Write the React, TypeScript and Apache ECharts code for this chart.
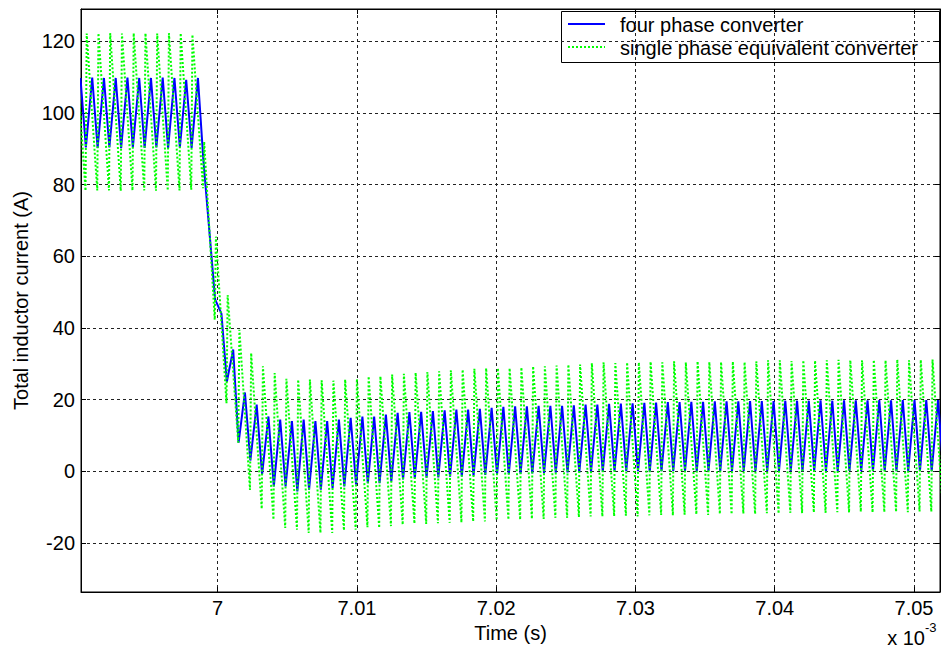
import React, { useEffect, useRef } from "react";
import * as echarts from "echarts";

// Axis ranges (time in units of 1e-3 s, current in A)
const X_MIN = 6.990187;
const X_MAX = 7.051866;
const Y_MIN = -33.7;
const Y_MAX = 129.05;

// Switching period (x 1e-3 s) and time of the first listed green peak (cycle k = -1)
const PERIOD = 0.0008435;
const FIRST_PEAK = 6.990596 - 0.0008435;

const seriesNames = ["four phase converter", "single phase equivalent converter"];

// Four-phase converter: per-cycle ripple maxima and minima (A), cycles k = -1 .. 73
const bluePeaks = [
  109.8, 109.9, 109.8, 109.8, 109.9, 109.8, 109.8, 109.9, 109.8, 109.3, 109.8,
  66, 44, 34, 22, 18.6, 15.3, 14.4, 14.0, 14.4, 14.0,
  14.0, 14.4, 14.9, 15.3, 15.3, 15.8, 16.3, 16.5, 16.6, 16.8,
  17.0, 17.2, 17.2, 17.4, 17.7, 18.0, 18.1, 18.1, 18.3, 18.3,
  18.3, 18.4, 18.6, 18.6, 18.8, 18.9, 19.0, 19.1, 19.2, 19.3,
  19.3, 19.4, 19.4, 19.5, 19.5, 19.5, 19.6, 19.6, 19.6, 19.7,
  19.7, 19.7, 19.8, 19.7, 19.8, 19.8, 19.8, 19.9, 19.8, 19.9, 19.9, 19.9, 19.9, 20.0,
];
const blueTroughs = [
  90.4, 90.3, 90.4, 90.2, 90.4, 90.3, 90.4, 90.2, 90.4, 90.3,
  87, 48, 25, 8, 3, -0.9, -4.2, -4.2, -5.6, -5.1,
  -5.1, -4.7, -4.2, -3.7, -3.3, -3.3, -2.8, -2.3, -1.9, -1.8,
  -1.7, -1.5, -1.4, -1.2, -1.0, -0.9, -0.8, -0.7, -0.6, -0.5,
  -0.4, -0.3, -0.3, -0.2, -0.1,
  0.0, 0.1, 0.0, -0.1, 0.0, 0.1, 0.0, 0.0, 0.1, 0.0,
  0.0, 0.1, 0.0, 0.0, 0.1, 0.0, 0.0, 0.1, 0.0, 0.0,
  0.1, 0.0, 0.0, 0.1, 0.0, 0.0, 0.1, 0.0, 0.0, 0.0,
];

// Single phase equivalent converter: per-cycle ripple maxima and minima (A), cycles k = -1 .. 73
const greenPeaks = [
  122.3, 122.2, 122.3, 122.3, 122.2, 122.3, 122.3, 122.2, 122.3, 122.3, 121.9,
  92, 65.5, 49.2, 39.5, 33, 29.3, 27.4, 25.8, 25.6, 25.6,
  25.4, 25.3, 25.6, 25.8, 26.5, 26.5, 27.0, 27.2, 27.5, 27.7,
  27.9, 28.2, 28.4, 28.6, 28.8, 28.8, 28.8, 29.0, 29.3, 29.3,
  29.5, 29.8, 29.8, 30.2, 30.4,
  30.2, 30.4, 30.4, 30.6, 30.4, 30.7, 30.4, 30.7, 30.5, 30.5, 30.6, 30.5, 30.7, 31.0, 31.0,
  30.8, 31.0, 30.9, 31.0, 31.1, 31.0, 31.0, 31.1, 31.0, 31.2, 31.0, 31.1, 31.2, 31.1,
];
const greenTroughs = [
  78.4, 78.3, 78.4, 78.4, 78.3, 78.4, 78.4, 78.3, 78.4, 78.4, 78.6,
  79, 42.3, 19, 8, -5.2, -10.5, -13.5, -15.8, -16.3, -17.2,
  -17.2, -17.2, -16.5, -16.3, -15.6, -15.8, -15.3, -14.9, -14.6, -14.7,
  -14.5, -14.4, -14.3, -14.0, -14.0, -13.7, -13.5, -13.5, -13.3, -13.3,
  -13.0, -13.0, -12.8, -12.6, -12.6,
  -12.5, -12.4, -12.6, -12.3, -12.2, -12.3, -12.1, -12.0, -12.2, -11.9, -12.0, -11.8, -11.9, -11.7, -11.8,
  -11.6, -11.7, -11.5, -11.6, -11.4, -11.5, -11.3, -11.5, -11.4, -11.3, -11.4, -11.2, -11.3, -11.3,
];

const FONT = "'Liberation Sans', Arial, Helvetica, sans-serif";

function buildBlue(): number[][] {
  const out: number[][] = [];
  bluePeaks.forEach((p, i) => {
    const t = FIRST_PEAK + i * PERIOD;
    out.push([t + 0.47 * PERIOD, p]);
    out.push([t + 0.93 * PERIOD, blueTroughs[i]]);
  });
  return out;
}

function buildGreen(): number[][] {
  const out: number[][] = [];
  greenPeaks.forEach((p, i) => {
    const t = FIRST_PEAK + i * PERIOD;
    out.push([t - 0.1 * PERIOD, greenTroughs[i]]);
    out.push([t, p]);
  });
  return out;
}

export default function App() {
  const ref = useRef<HTMLDivElement>(null);

  useEffect(() => {
    if (!ref.current) return;
    const chart = echarts.init(ref.current, null, { renderer: "svg" });

    const gridLine = { show: true, lineStyle: { color: "#222", width: 1, type: [3, 3] as any } };
    const axisLine = { show: true, onZero: false, lineStyle: { color: "#000", width: 1 } };
    const tick = { show: true, inside: true, length: 5, lineStyle: { color: "#000" } };

    const option: any = {
      animation: false,
      backgroundColor: "#fff",
      grid: { left: 81, top: 9, width: 859, height: 583, show: true, borderColor: "#000", borderWidth: 1, backgroundColor: "#fff" },
      xAxis: [
        {
          type: "value",
          min: X_MIN,
          max: X_MAX,
          splitNumber: 6,
          position: "bottom",
          name: "Time (s)",
          nameLocation: "middle",
          nameGap: 28,
          nameTextStyle: { fontSize: 20, color: "#000", fontFamily: FONT },
          axisLine,
          axisTick: tick,
          axisLabel: { fontSize: 20, color: "#000", fontFamily: FONT, margin: 6, showMinLabel: false, showMaxLabel: false },
          splitLine: gridLine,
        },
        {
          type: "value",
          min: X_MIN,
          max: X_MAX,
          splitNumber: 6,
          position: "top",
          axisLine,
          axisTick: tick,
          axisLabel: { show: false },
          splitLine: { show: false },
        },
      ],
      yAxis: [
        {
          type: "value",
          min: Y_MIN,
          max: Y_MAX,
          splitNumber: 8,
          position: "left",
          name: "Total inductor current (A)",
          nameLocation: "middle",
          nameGap: 50,
          nameTextStyle: { fontSize: 20, color: "#000", fontFamily: FONT },
          axisLine,
          axisTick: tick,
          axisLabel: { fontSize: 20, color: "#000", fontFamily: FONT, margin: 6, showMinLabel: false, showMaxLabel: false },
          splitLine: gridLine,
        },
        {
          type: "value",
          min: Y_MIN,
          max: Y_MAX,
          splitNumber: 8,
          position: "right",
          axisLine,
          axisTick: tick,
          axisLabel: { show: false },
          splitLine: { show: false },
        },
      ],
      series: [
        {
          name: seriesNames[0],
          type: "line",
          data: buildBlue(),
          showSymbol: false,
          symbol: "none",
          clip: true,
          lineStyle: { color: "#0000ff", width: 2 },
          z: 3,
        },
        {
          name: seriesNames[1],
          type: "line",
          data: buildGreen(),
          showSymbol: false,
          symbol: "none",
          clip: true,
          lineStyle: { color: "#00ff00", width: 2, type: [2, 2] },
          z: 4,
        },
      ],
      graphic: [
        {
          type: "group",
          z: 100,
          children: [
            { type: "rect", shape: { x: 561.5, y: 11.5, width: 378, height: 51 }, style: { fill: "#fff", stroke: "#000", lineWidth: 1 } },
            { type: "line", shape: { x1: 568, y1: 24, x2: 605, y2: 24 }, style: { stroke: "#0000ff", lineWidth: 2 } },
            { type: "text", x: 620, y: 25, style: { text: seriesNames[0], font: `20px ${FONT}`, fill: "#000", verticalAlign: "middle", align: "left" } },
            { type: "line", shape: { x1: 568, y1: 47, x2: 605, y2: 47 }, style: { stroke: "#00ff00", lineWidth: 2, lineDash: [2, 2] } },
            { type: "text", x: 620, y: 48, style: { text: seriesNames[1], font: `20px ${FONT}`, fill: "#000", verticalAlign: "middle", align: "left" } },
          ],
        },
        { type: "text", x: 925, y: 638, style: { text: "x 10", font: `20px ${FONT}`, fill: "#000", verticalAlign: "middle", align: "right" } },
        { type: "text", x: 925, y: 627, style: { text: "-3", font: `13px ${FONT}`, fill: "#000", verticalAlign: "middle", align: "left" } },
      ],
    };

    chart.setOption(option);
    return () => chart.dispose();
  }, []);

  return (
    <div
      ref={ref}
      style={{ position: "fixed", left: 0, top: 0, width: 943, height: 653, background: "#fff" }}
    />
  );
}
